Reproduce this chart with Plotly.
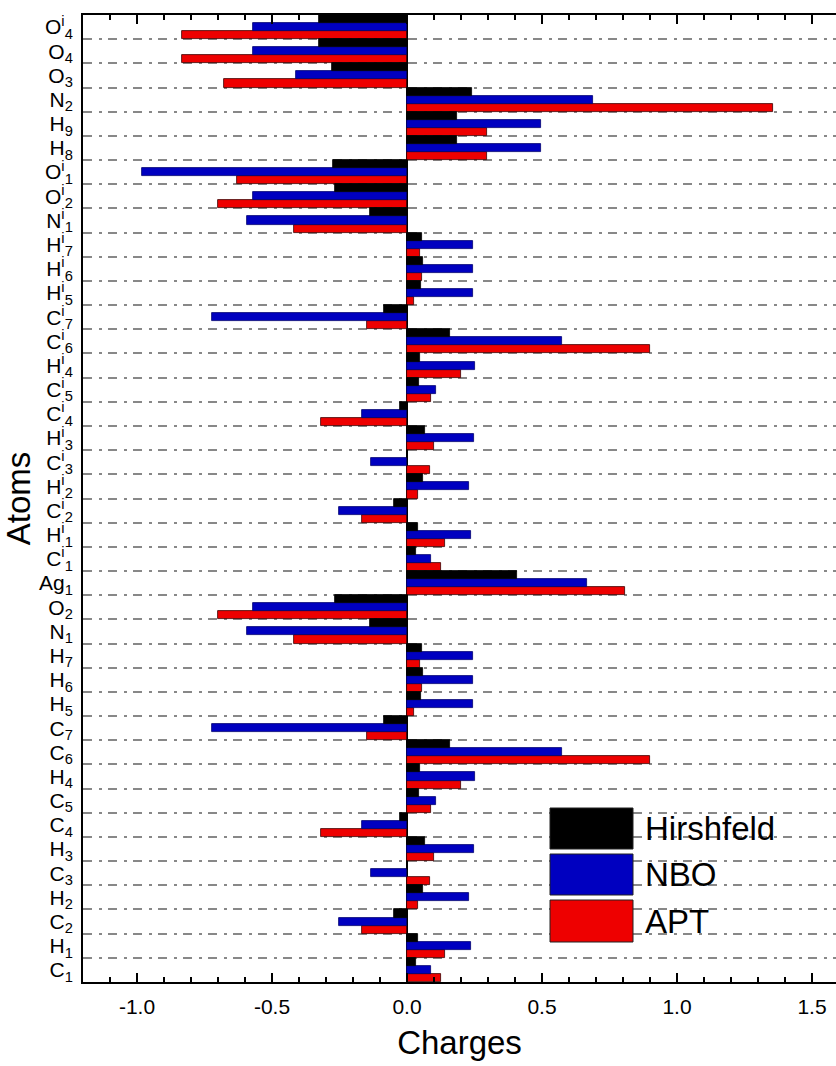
import plotly.graph_objects as go

# Atom identifiers, bottom to top
atoms = ["C1", "H1", "C2", "H2", "C3", "H3", "C4", "C5", "H4", "C6", "C7",
         "H5", "H6", "H7", "N1", "O2", "Ag1",
         "C'1", "H'1", "C'2", "H'2", "C'3", "H'3", "C'4", "C'5", "H'4", "C'6",
         "C'7", "H'5", "H'6", "H'7", "N'1", "O'2", "O'1",
         "H8", "H9", "N2", "O3", "O4", "O'4"]

# Displayed labels: element, superscript mark for primed atoms, subscript index
atom_labels = ["C<sub>1</sub>", "H<sub>1</sub>", "C<sub>2</sub>", "H<sub>2</sub>",
               "C<sub>3</sub>", "H<sub>3</sub>", "C<sub>4</sub>", "C<sub>5</sub>",
               "H<sub>4</sub>", "C<sub>6</sub>", "C<sub>7</sub>", "H<sub>5</sub>",
               "H<sub>6</sub>", "H<sub>7</sub>", "N<sub>1</sub>", "O<sub>2</sub>",
               "Ag<sub>1</sub>",
               "C<sup>i</sup><sub>1</sub>", "H<sup>i</sup><sub>1</sub>",
               "C<sup>i</sup><sub>2</sub>", "H<sup>i</sup><sub>2</sub>",
               "C<sup>i</sup><sub>3</sub>", "H<sup>i</sup><sub>3</sub>",
               "C<sup>i</sup><sub>4</sub>", "C<sup>i</sup><sub>5</sub>",
               "H<sup>i</sup><sub>4</sub>", "C<sup>i</sup><sub>6</sub>",
               "C<sup>i</sup><sub>7</sub>", "H<sup>i</sup><sub>5</sub>",
               "H<sup>i</sup><sub>6</sub>", "H<sup>i</sup><sub>7</sub>",
               "N<sup>i</sup><sub>1</sub>", "O<sup>i</sup><sub>2</sub>",
               "O<sup>i</sup><sub>1</sub>", "H<sub>8</sub>", "H<sub>9</sub>",
               "N<sub>2</sub>", "O<sub>3</sub>", "O<sub>4</sub>",
               "O<sup>i</sup><sub>4</sub>"]

hirshfeld = [0.033, 0.040, -0.047, 0.059, 0.000, 0.067, -0.026, 0.044, 0.048, 0.160,
             -0.084, 0.052, 0.059, 0.057, -0.137, -0.267, 0.406,
             0.033, 0.040, -0.047, 0.059, 0.000, 0.067, -0.026, 0.044, 0.048, 0.160,
             -0.084, 0.052, 0.059, 0.057, -0.137, -0.267, -0.275,
             0.184, 0.184, 0.242, -0.279, -0.325, -0.325]

nbo = [0.090, 0.236, -0.251, 0.228, -0.133, 0.248, -0.168, 0.109, 0.253, 0.573,
       -0.722, 0.246, 0.246, 0.243, -0.591, -0.569, 0.667,
       0.090, 0.236, -0.251, 0.228, -0.133, 0.248, -0.168, 0.109, 0.253, 0.573,
       -0.722, 0.246, 0.246, 0.243, -0.591, -0.569, -0.980,
       0.496, 0.496, 0.689, -0.411, -0.569, -0.569]

apt = [0.125, 0.142, -0.168, 0.042, 0.085, 0.099, -0.319, 0.090, 0.200, 0.900,
       -0.147, 0.026, 0.056, 0.048, -0.417, -0.699, 0.807,
       0.125, 0.142, -0.168, 0.042, 0.085, 0.099, -0.319, 0.090, 0.200, 0.900,
       -0.147, 0.026, 0.056, 0.048, -0.417, -0.699, -0.628,
       0.295, 0.295, 1.356, -0.678, -0.832, -0.835]

x_ticks = [-1.0, -0.5, 0.0, 0.5, 1.0, 1.5]
x_tick_text = ["-1.0", "-0.5", "0.0", "0.5", "1.0", "1.5"]

series = [("APT", apt, "#EE0000", "#3a0000"),
          ("NBO", nbo, "#0000C0", "#000070"),
          ("Hirshfeld", hirshfeld, "#000000", "#000000")]

W, H = 836, 1066
L, R, T, B = 83, 0, 15, 84
FONT = "Liberation Sans, Arial, sans-serif"

fig = go.Figure()
for name, vals, color, edge in series:
    fig.add_trace(go.Bar(
        y=atoms, x=vals, orientation="h", name=name,
        marker=dict(color=color, line=dict(color=edge, width=0.8)),
        showlegend=False,
    ))


def px_x(px):
    return (px - L) / (W - L - R)


def px_y(py):
    return (H - B - py) / (H - B - T)


cat_range = [-0.5, len(atoms) - 0.5]

fig.update_layout(
    width=W, height=H,
    margin=dict(l=L, r=R, t=T, b=B),
    paper_bgcolor="white", plot_bgcolor="white",
    barmode="group", bargap=0, bargroupgap=0,
    font=dict(family=FONT, color="black"),
    xaxis=dict(
        range=[-1.2, 1.589], tickmode="array", tickvals=x_ticks, ticktext=x_tick_text,
        ticks="inside", ticklen=9, tickwidth=2, tickcolor="black",
        showline=True, linewidth=2, linecolor="black", mirror="allticks",
        showgrid=False,
        zeroline=True, zerolinecolor="black", zerolinewidth=2,
        minor=dict(dtick=0.1, tick0=0, ticks="inside", ticklen=5, tickwidth=1.5,
                   tickcolor="black", showgrid=False),
        tickfont=dict(size=21, family=FONT),
        ticklabelstandoff=5,
        title=dict(text="Charges", font=dict(size=33, family=FONT), standoff=14),
    ),
    yaxis=dict(
        type="category", categoryorder="array", categoryarray=atoms,
        range=cat_range, tickmode="array", tickvals=atoms, ticktext=atom_labels,
        tickson="boundaries", ticks="",
        showline=True, linewidth=2, linecolor="black", mirror=False,
        showgrid=True, gridcolor="#888888", gridwidth=2, griddash="9px,7px,3px,6px",
        tickfont=dict(size=21, family=FONT),
        ticklabelstandoff=4,
        title=dict(text="Atoms", font=dict(size=33, family=FONT), standoff=12),
    ),
    yaxis2=dict(
        type="category", categoryorder="array", categoryarray=atoms,
        range=cat_range, overlaying="y", anchor="free",
        position=px_x(403), side="left",
        tickson="boundaries", ticks="inside", ticklen=8, tickwidth=2, tickcolor="black",
        showticklabels=False, showgrid=False, showline=False, zeroline=False,
    ),
)

# Legend block drawn inside the plot area
legend_items = [("Hirshfeld", "#000000", 808, 849),
                ("NBO", "#0000C0", 854, 895),
                ("APT", "#EE0000", 900, 942)]
for label, color, y0, y1 in legend_items:
    fig.add_shape(type="rect", xref="paper", yref="paper",
                  x0=px_x(550), x1=px_x(633), y0=px_y(y1), y1=px_y(y0),
                  fillcolor=color, line=dict(color="#222222", width=1))
    fig.add_annotation(x=px_x(643), xref="paper", y=px_y((y0 + y1) / 2), yref="paper",
                       text=label, showarrow=False, xanchor="left", yanchor="middle",
                       font=dict(size=33, family=FONT, color="black"))

fig.write_html("out.html")
